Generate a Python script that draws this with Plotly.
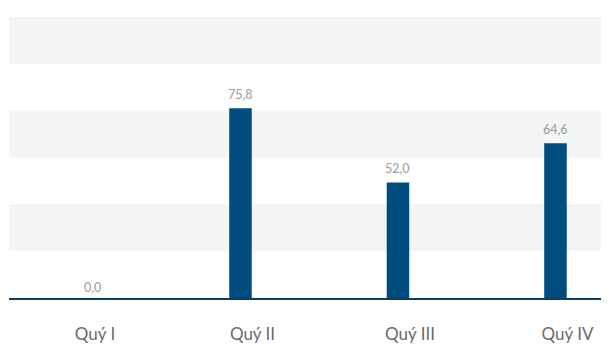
import plotly.graph_objects as go

categories = ["Quý I", "Quý II", "Quý III", "Quý IV"]
values = [0.0, 75.8, 52.0, 64.6]
label_texts = ["0,0", "75,8", "52,0", "64,6"]
y_min, y_max, y_step = 15, 105, 15

bar_color = "#004c7e"
band_color = "#f3f4f4"

fig = go.Figure()
fig.add_trace(go.Bar(
    x=categories, y=values, width=0.143,
    marker=dict(color=bar_color, line=dict(width=0)),
    hoverinfo="skip",
))

# alternating bands between ticks
ticks = list(range(y_min, y_max + 1, y_step))
for i in range(1, len(ticks) - 1, 2):
    fig.add_shape(type="rect", xref="paper", yref="y", x0=0, x1=1,
                  y0=ticks[i], y1=ticks[i + 1], fillcolor=band_color,
                  line=dict(width=0), layer="below")

for c, v, t in zip(categories, values, label_texts):
    fig.add_annotation(x=c, y=max(v, y_min), text=t, showarrow=False,
                       yanchor="bottom", yshift=4 if v > y_min else 1,
                       xshift=9 if v <= y_min else 0,
                       font=dict(family="Lato", size=12.5, color="#9a9a9a"))

# page body has an 8px margin; size the figure to fill the rest of the window
fig.update_layout(
    width=601, height=338,
    margin=dict(l=1, r=0, t=9, b=48, autoexpand=False),
    paper_bgcolor="white", plot_bgcolor="white",
    showlegend=False,
    xaxis=dict(type="category", range=[-0.47, 3.34], showgrid=False,
               automargin=False,
               showline=True, linecolor="#0b3d63", linewidth=2,
               ticks="outside", ticklen=20, tickcolor="rgba(0,0,0,0)",
               ticklabelshift=12,
               tickfont=dict(family="Lato", size=17, color="#6b6b6b")),
    yaxis=dict(range=[y_min, y_max], showgrid=False, zeroline=False,
               automargin=False,
               showticklabels=False, dtick=y_step),
)

fig.write_html("out.html")
